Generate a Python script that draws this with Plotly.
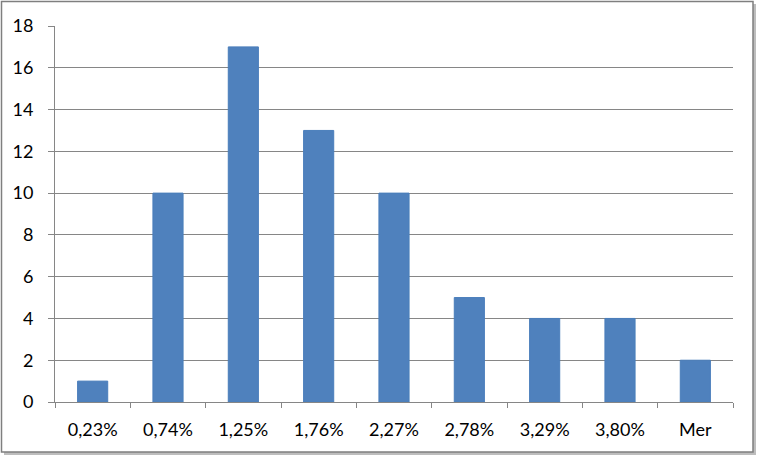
import plotly.graph_objects as go

categories = ["0,23%", "0,74%", "1,25%", "1,76%", "2,27%", "2,78%", "3,29%", "3,80%", "Mer"]
counts = [1, 10, 17, 13, 10, 5, 4, 4, 2]
y_ticks = [0, 2, 4, 6, 8, 10, 12, 14, 16, 18]

W, H = 758, 457
L, R, T, B = 55, 25, 26, 55
pw, ph = W - L - R, H - T - B

def px(x):
    return (x - L) / pw

def py(y):
    return (H - B - y) / ph

fig = go.Figure(go.Bar(
    x=categories, y=counts,
    marker=dict(color="#4F81BD", line=dict(color="#4A7EBB", width=1)),
))

fig.update_layout(
    width=W, height=H,
    margin=dict(l=L, r=R, t=T, b=B),
    paper_bgcolor="white", plot_bgcolor="rgba(0,0,0,0)",
    bargap=0.6, showlegend=False,
    font=dict(family="Lato, Open Sans, sans-serif", size=18, color="#000000"),
    shapes=[
        dict(type="rect", xref="paper", yref="paper", layer="below",
             x0=px(4), x1=px(756), y0=py(455), y1=py(4),
             fillcolor="#bdbdbd", line=dict(width=0)),
        dict(type="rect", xref="paper", yref="paper", layer="below",
             x0=px(1.5), x1=px(753), y0=py(452), y1=py(1.5),
             fillcolor="white", line=dict(color="#7f7f7f", width=1.5)),
    ],
)
fig.update_xaxes(
    type="category", showgrid=False, showline=True, linecolor="#868686", linewidth=1,
    ticks="outside", tickson="boundaries", ticklen=5, tickcolor="#868686",
    ticklabelstandoff=11,
)
fig.update_yaxes(
    range=[0, 18], tickvals=y_ticks, showgrid=True, gridcolor="#868686", gridwidth=1,
    showline=True, linecolor="#868686", linewidth=1, zeroline=False,
    ticks="outside", ticklen=6, tickcolor="#868686", ticklabelstandoff=11,
)

fig.write_html("out.html", config={"displayModeBar": False},
               post_script="document.body.style.margin='0';")
